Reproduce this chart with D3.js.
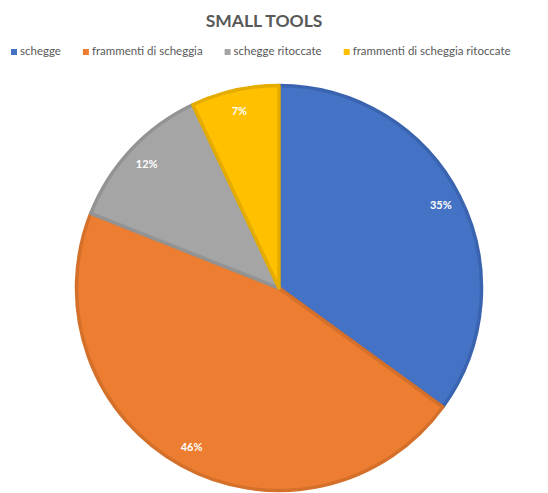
<!DOCTYPE html>
<html>
<head>
<meta charset="utf-8">
<script src="https://cdn.jsdelivr.net/npm/d3@7"></script>
<style>
  body { margin: 0; background: #fff; }
  svg { display: block; font-family: Lato, "Open Sans", sans-serif; }
</style>
</head>
<body>
<svg id="chart"></svg>
<script>
// categories and shares (%)
const categories = ["schegge", "frammenti di scheggia", "schegge ritoccate", "frammenti di scheggia ritoccate"];
const values = [35, 46, 12, 7];
const fills = ["#4472C4", "#ED7D31", "#A5A5A5", "#FFC000"];
const borders = ["#3A64B0", "#D5702B", "#939393", "#E5AC00"];

const width = 548, height = 493;
const svg = d3.select("#chart").attr("width", width).attr("height", height);

svg.append("text")
    .attr("x", 264).attr("y", 27)
    .attr("text-anchor", "middle")
    .attr("font-size", 17.5).attr("font-weight", 700)
    .attr("fill", "#595959")
    .text("SMALL TOOLS");

// legend, laid out left to right
const legend = svg.append("g").attr("transform", "translate(11,55)");
let lx = 0;
categories.forEach(function (c, i) {
    const g = legend.append("g").attr("transform", "translate(" + lx + ",0)");
    g.append("rect").attr("x", 0).attr("y", -6).attr("width", 6).attr("height", 6).attr("fill", fills[i]);
    const t = g.append("text").attr("x", 9).attr("y", 0)
        .attr("font-size", 11.5).attr("fill", "#595959").text(c);
    lx += 9 + t.node().getComputedTextLength() + 22;
});

// pie
const cx = 279, cy = 288, r = 204;
const pie = d3.pie().sort(null).value(d => d);
const arcs = pie(values);
const arc = d3.arc().innerRadius(0).outerRadius(r - 1.5);
const labelArc = d3.arc().innerRadius(r * 0.89).outerRadius(r * 0.89);

const g = svg.append("g").attr("transform", "translate(" + cx + "," + cy + ")");
g.selectAll("path")
    .data(arcs)
    .enter()
    .append("path")
    .attr("d", arc)
    .attr("fill", (d, i) => fills[i])
    .attr("stroke", (d, i) => borders[i])
    .attr("stroke-width", 3.5)
    .attr("stroke-linejoin", "round");

g.selectAll("text.lbl")
    .data(arcs)
    .enter()
    .append("text")
    .attr("class", "lbl")
    .attr("transform", d => "translate(" + labelArc.centroid(d) + ")")
    .attr("text-anchor", "middle")
    .attr("dy", "0.35em")
    .attr("font-size", 11).attr("font-weight", 700)
    .attr("fill", "#fff")
    .text(d => d.data + "%");
</script>
</body>
</html>
